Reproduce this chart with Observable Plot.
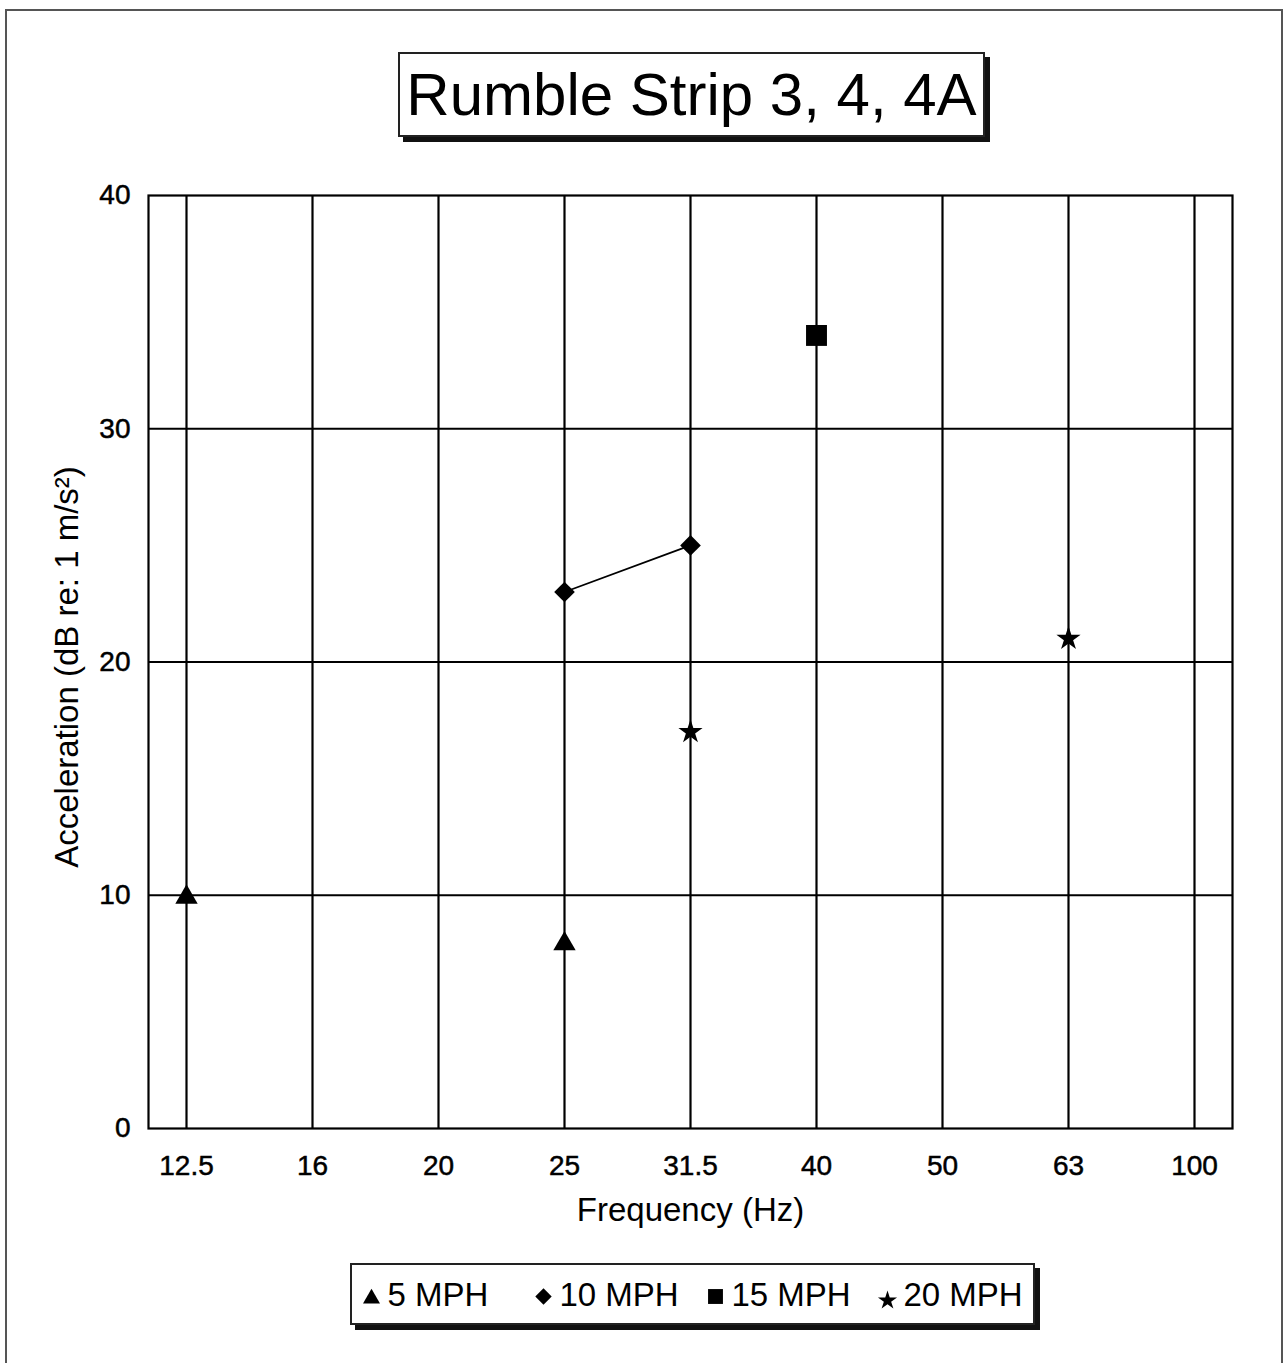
<!DOCTYPE html>
<html>
<head>
<meta charset="utf-8">
<script src="https://cdn.jsdelivr.net/npm/d3@7"></script>
<script src="https://cdn.jsdelivr.net/npm/@observablehq/plot@0.6"></script>
<style>
  html, body { margin: 0; padding: 0; background: #fff; }
  body { font-family: "Liberation Sans", Arial, sans-serif; color: #000; }
  #page { position: relative; width: 1285px; height: 1363px; overflow: hidden; background: #fff; }
  #outer { position: absolute; left: 5px; top: 9px; width: 1278px; height: 1400px;
           border: 2px solid #555; box-sizing: border-box; }
  #title { position: absolute; left: 398px; top: 52px; width: 587px; height: 85px; box-sizing: border-box;
           border: 2px solid #222; background: #fff; box-shadow: 5px 5px 0 #111;
           font-size: 60px; line-height: 81px; text-align: center; white-space: nowrap; }
  #chart { position: absolute; left: 0; top: 165px; }
  #chart g[aria-label$="tick label"] text { stroke: #000; stroke-width: 0.5px; }
  #legendBox { position: absolute; left: 350px; top: 1263px; width: 685px; height: 62px; box-sizing: border-box;
               border: 2px solid #222; background: #fff; box-shadow: 5px 5px 0 #111; }
  #legend { position: absolute; left: 350px; top: 1263px; }
</style>
</head>
<body>
<div id="page">
  <div id="outer"></div>
  <div id="title">Rumble Strip 3, 4, 4A</div>
  <div id="chart"></div>
  <div id="legendBox"></div>
  <div id="legend"></div>
</div>
<script>
// ---- data ----
const frequencies = ["12.5", "16", "20", "25", "31.5", "40", "50", "63", "100"];
const yTicks = [0, 10, 20, 30, 40];
const seriesNames = ["5 MPH", "10 MPH", "15 MPH", "20 MPH"];
const seriesSymbols = ["triangle", "diamond2", "square", "star"];

const mph5Freq = ["12.5", "25"];
const mph5Acc = [10, 8];
const mph10Freq = ["25", "31.5"];
const mph10Acc = [23, 25];
const mph15Freq = ["40"];
const mph15Acc = [34];
const mph20Freq = ["31.5", "63"];
const mph20Acc = [17, 21];

const xLabel = "Frequency (Hz)";
const yLabel = "Acceleration (dB re: 1 m/s²)";

// ---- build rows ----
function rows(name, freqs, vals) {
  return freqs.map((f, i) => ({series: name, freq: f, acc: vals[i]}));
}
const s5 = rows("5 MPH", mph5Freq, mph5Acc);
const s10 = rows("10 MPH", mph10Freq, mph10Acc);
const s15 = rows("15 MPH", mph15Freq, mph15Acc);
const s20 = rows("20 MPH", mph20Freq, mph20Acc);

const font = '"Liberation Sans", Arial, sans-serif';
const symbolScale = {domain: seriesNames, range: seriesSymbols};

const chart = Plot.plot({
  width: 1285,
  height: 1063,
  marginLeft: 148,
  marginRight: 53,
  marginTop: 30,
  marginBottom: 100,
  style: {fontFamily: font, fontSize: "28px", color: "#000", background: "transparent", overflow: "visible"},
  x: {type: "point", domain: frequencies, padding: 0.28},
  y: {domain: [0, 40]},
  symbol: symbolScale,
  marks: [
    Plot.ruleX(frequencies, {x: d => d, stroke: "#000", strokeWidth: 2.2}),
    Plot.ruleY(yTicks.filter(t => t > 0 && t < 40), {y: d => d, stroke: "#000", strokeWidth: 2.2}),
    Plot.frame({stroke: "#000", strokeWidth: 2.2}),
    Plot.axisX({tickSize: 0, tickPadding: 27, label: null, fontSize: 28}),
    Plot.axisY({ticks: yTicks, tickSize: 0, tickPadding: 18, label: null, fontSize: 28}),
    Plot.text([xLabel], {text: d => d, frameAnchor: "bottom", lineAnchor: "middle", dy: 82, fontSize: 33}),
    Plot.text([yLabel], {text: d => d, frameAnchor: "left", textAnchor: "middle", lineAnchor: "middle", dx: -81, dy: 5, rotate: -90, fontSize: 33}),
    Plot.line(s10, {x: "freq", y: "acc", stroke: "#000", strokeWidth: 1.8}),
    Plot.dot(s5, {x: "freq", y: "acc", symbol: "series", fill: "#000", stroke: "none", r: 8.3, dy: 2}),
    Plot.dot(s10, {x: "freq", y: "acc", symbol: "series", fill: "#000", stroke: "none", r: 9.3}),
    Plot.dot(s15, {x: "freq", y: "acc", symbol: "series", fill: "#000", stroke: "none", r: 11.8}),
    Plot.dot(s20, {x: "freq", y: "acc", symbol: "series", fill: "#000", stroke: "none", r: 7.6})
  ]
});
document.getElementById("chart").appendChild(chart);

// ---- legend ----
const legendR = {"5 MPH": 6.3, "10 MPH": 7.4, "15 MPH": 8.4, "20 MPH": 6};
const legendDy = {"5 MPH": 4, "10 MPH": 2, "15 MPH": 2, "20 MPH": 6};
const legend = Plot.plot({
  width: 685,
  height: 62,
  margin: 0,
  style: {fontFamily: font, fontSize: "33px", color: "#000", background: "transparent", overflow: "visible"},
  x: {type: "point", domain: seriesNames, range: [20, 538], padding: 0, axis: null},
  symbol: symbolScale,
  marks: seriesNames.map(n =>
    Plot.dot([n], {x: d => d, frameAnchor: "middle", dy: legendDy[n], symbol: d => d, fill: "#000", stroke: "none", r: legendR[n]})
  ).concat([
    Plot.text(seriesNames, {x: d => d, text: d => d, frameAnchor: "middle", dx: 16, dy: 1, textAnchor: "start", fontSize: 33})
  ])
});
document.getElementById("legend").appendChild(legend);
</script>
</body>
</html>
